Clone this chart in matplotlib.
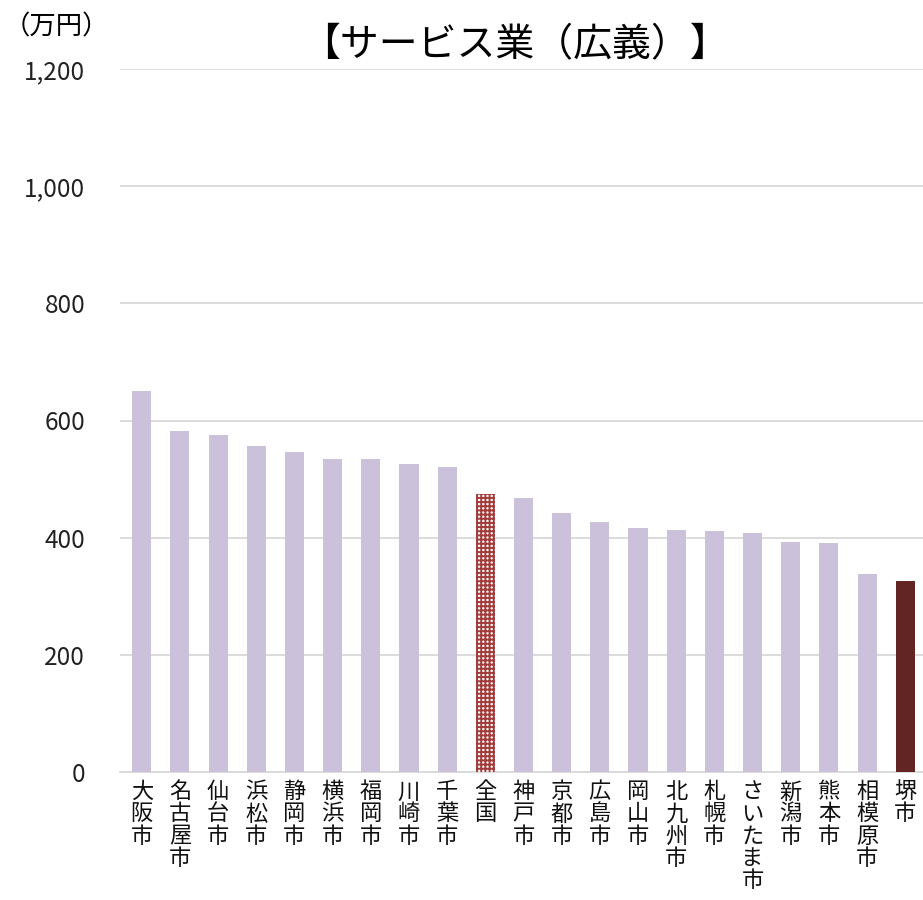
import numpy as np
import matplotlib
matplotlib.use('Agg')
import matplotlib.pyplot as plt

plt.rcParams['font.family'] = ['Noto Sans CJK JP', 'DejaVu Sans']
plt.rcParams['hatch.linewidth'] = 1.4

# data
cities = ['大阪市', '名古屋市', '仙台市', '浜松市', '静岡市', '横浜市', '福岡市', '川崎市',
          '千葉市', '全国', '神戸市', '京都市', '広島市', '岡山市', '北九州市', '札幌市',
          'さいたま市', '新潟市', '熊本市', '相模原市', '堺市']
values = [650, 582, 575, 556, 546, 534, 534, 526, 521, 475, 468, 442, 427, 417, 413, 411,
          408, 393, 391, 338, 326]
yticks = [0, 200, 400, 600, 800, 1000, 1200]

base_color = '#CCC1DA'
national_color = '#A23B3B'
sakai_color = '#632523'

fig = plt.figure(figsize=(9.23, 9.0), dpi=100)
ax = fig.add_axes([120 / 923, 128 / 900, 807 / 923, 703 / 900])

x = np.arange(len(cities))
for i, (c, v) in enumerate(zip(cities, values)):
    if c == '全国':
        ax.bar(i, v, width=0.5, color='white', edgecolor=national_color, hatch='++++',
               linewidth=0, zorder=3)
    elif c == '堺市':
        ax.bar(i, v, width=0.5, color=sakai_color, linewidth=0, zorder=3)
    else:
        ax.bar(i, v, width=0.5, color=base_color, linewidth=0, zorder=3)

ax.set_xlim(-0.57, len(cities) - 0.43)
ax.set_ylim(0, 1200)
ax.set_yticks(yticks)
ax.set_yticklabels([f'{v:,}' for v in yticks], fontsize=17.5, color='#222222')
ax.yaxis.grid(True, color='#D9D9D9', linewidth=1.3, zorder=0)
ax.set_axisbelow(True)

for s in ['top', 'right', 'left']:
    ax.spines[s].set_visible(False)
ax.spines['bottom'].set_color('#D9D9D9')
ax.spines['bottom'].set_linewidth(1.3)
ax.tick_params(axis='y', length=0, pad=25)
ax.tick_params(axis='x', length=0, pad=6)

ax.set_xticks(x)
ax.set_xticklabels(['\n'.join(c) for c in cities], fontsize=16, va='top',
                   linespacing=0.95, color='#111111')

fig.text(515 / 923, 1 - 45 / 900, '【サービス業（広義）】', fontsize=28, ha='center', va='center')
fig.text(4 / 923, 1 - 27 / 900, '（万円）', fontsize=19, ha='left', va='center')

fig.savefig('out.png', dpi=100)
